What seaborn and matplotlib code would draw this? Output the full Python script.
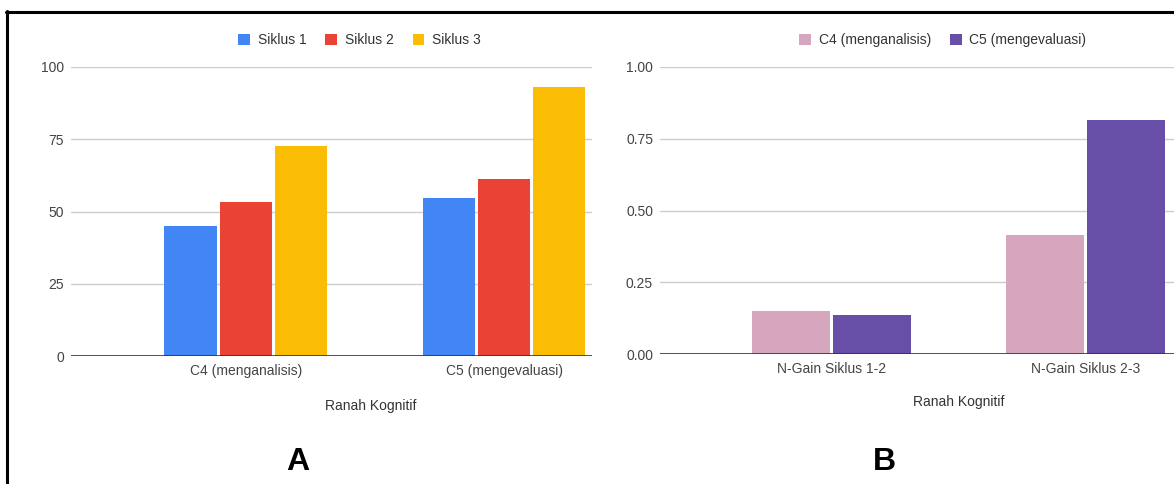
import pandas as pd
import seaborn as sns
import matplotlib.pyplot as plt
from matplotlib.lines import Line2D

# data
kategori_a = ['C4 (menganalisis)', 'C5 (mengevaluasi)']
siklus_labels = ['Siklus 1', 'Siklus 2', 'Siklus 3']
siklus1 = [45.0, 54.8]
siklus2 = [53.3, 61.2]
siklus3 = [72.7, 93.1]

kategori_b = ['N-Gain Siklus 1-2', 'N-Gain Siklus 2-3']
ranah_labels = ['C4 (menganalisis)', 'C5 (mengevaluasi)']
ngain_c4 = [0.150, 0.415]
ngain_c5 = [0.136, 0.815]

y_ticks_a = [0, 25, 50, 75, 100]
y_ticks_b = [0, 0.25, 0.5, 0.75, 1.0]

df_a = pd.DataFrame({
    'Ranah': kategori_a * 3,
    'Siklus': [s for s in siklus_labels for _ in kategori_a],
    'Nilai': siklus1 + siklus2 + siklus3,
})
df_b = pd.DataFrame({
    'Kategori': kategori_b * 2,
    'Ranah': [r for r in ranah_labels for _ in kategori_b],
    'Nilai': ngain_c4 + ngain_c5,
})

sns.set_style('white')
plt.rcParams['font.family'] = ['Liberation Sans', 'DejaVu Sans']

fig = plt.figure(figsize=(11.74, 4.84), dpi=100)
ax1 = fig.add_axes([71 / 1174, 128 / 484, 521 / 1174, 289 / 484])
ax2 = fig.add_axes([660 / 1174, 130 / 484, 514 / 1174, 287 / 484])

pal_a = {'Siklus 1': '#4285F4', 'Siklus 2': '#EA4335', 'Siklus 3': '#FBBC04'}
pal_b = {'C4 (menganalisis)': '#D5A6BD', 'C5 (mengevaluasi)': '#674EA7'}

sns.barplot(data=df_a, x='Ranah', y='Nilai', hue='Siklus', palette=pal_a,
            saturation=1, width=0.64, gap=0.04, errorbar=None, linewidth=0,
            ax=ax1, zorder=3)
sns.barplot(data=df_b, x='Kategori', y='Nilai', hue='Ranah', palette=pal_b,
            saturation=1, width=0.64, gap=0.04, errorbar=None, linewidth=0,
            ax=ax2, zorder=3)


def style_axis(ax, ticks, fmt, xlim, label_x, label_y, leg_x):
    ax.set_ylim(ticks[0], ticks[-1])
    ax.set_xlim(*xlim)
    ax.set_yticks(ticks)
    ax.set_yticklabels([fmt.format(t) for t in ticks])
    for t in ticks[1:]:
        ax.axhline(t, color='#cccccc', lw=1, zorder=1)
    ax.axhline(0, color='#333333', lw=1.2, zorder=4)
    for s in ax.spines.values():
        s.set_visible(False)
    ax.tick_params(axis='both', length=0, labelsize=10, labelcolor='#444444')
    ax.tick_params(axis='x', pad=6)
    ax.tick_params(axis='y', pad=5)
    ax.set_ylabel('')
    ax.set_xlabel('Ranah Kognitif', fontsize=10, color='#333333')
    ax.xaxis.set_label_coords(label_x, label_y)
    handles, labels = ax.get_legend_handles_labels()
    ax.legend(handles, labels, loc='center', bbox_to_anchor=(leg_x, 1.093),
              ncol=len(labels), frameon=False, fontsize=10,
              handlelength=0.86, handleheight=0.86, handletextpad=0.55,
              columnspacing=1.35, labelcolor='#333333')


style_axis(ax1, y_ticks_a, '{:.0f}', (-0.678, 1.341), 0.576, -0.149, 0.554)
style_axis(ax2, y_ticks_b, '{:.2f}', (-0.675, 1.348), 0.582, -0.143, 0.55)

fig.text(298 / 1174, 1 - 462 / 484, 'A', fontsize=23, fontweight='bold',
         ha='center', va='center', color='black')
fig.text(884 / 1174, 1 - 462 / 484, 'B', fontsize=23, fontweight='bold',
         ha='center', va='center', color='black')

# black frame around the figure (top and left edges visible)
fig.add_artist(Line2D([6 / 1174, 1], [1 - 11.5 / 484, 1 - 11.5 / 484],
                      color='black', lw=2.2, transform=fig.transFigure))
fig.add_artist(Line2D([6.5 / 1174, 6.5 / 1174], [0, 1 - 10.5 / 484],
                      color='black', lw=2.2, transform=fig.transFigure))

fig.savefig('out.png', dpi=100)
